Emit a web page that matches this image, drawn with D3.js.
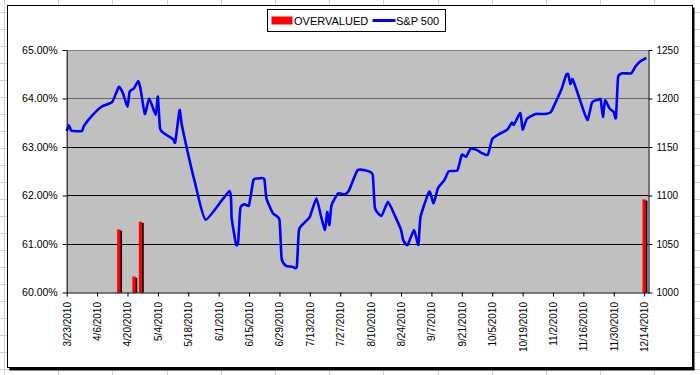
<!DOCTYPE html>
<html>
<head>
<meta charset="utf-8">
<script src="https://cdn.jsdelivr.net/npm/d3@7"></script>
<style>
	body { margin: 0; background: #fff; }
	svg { display: block; font-family: "Liberation Sans", Arial, sans-serif; }
</style>
</head>
<body>
<svg id="chart"></svg>
<script>
// S&P 500 closes (right axis)
const spDates = [
	'2010-03-23', '2010-03-24', '2010-03-25', '2010-03-26', '2010-03-30', '2010-03-31', '2010-04-04', '2010-04-08',
	'2010-04-13', '2010-04-16', '2010-04-18', '2010-04-20', '2010-04-21', '2010-04-23', '2010-04-25', '2010-04-26',
	'2010-04-28', '2010-04-30', '2010-05-03', '2010-05-04', '2010-05-05', '2010-05-07', '2010-05-11', '2010-05-12',
	'2010-05-14', '2010-05-15', '2010-05-18', '2010-05-21', '2010-05-26', '2010-06-06', '2010-06-07', '2010-06-09',
	'2010-06-10', '2010-06-11', '2010-06-13', '2010-06-15', '2010-06-17', '2010-06-19', '2010-06-22', '2010-06-23',
	'2010-06-26', '2010-06-29', '2010-06-30', '2010-07-02', '2010-07-05', '2010-07-07', '2010-07-08', '2010-07-11',
	'2010-07-13', '2010-07-16', '2010-07-18', '2010-07-20', '2010-07-21', '2010-07-22', '2010-07-23', '2010-07-26',
	'2010-07-29', '2010-07-31', '2010-08-04', '2010-08-09', '2010-08-11', '2010-08-12', '2010-08-15', '2010-08-18',
	'2010-08-21', '2010-08-24', '2010-08-25', '2010-08-27', '2010-08-30', '2010-09-01', '2010-09-02', '2010-09-06',
	'2010-09-08', '2010-09-10', '2010-09-13', '2010-09-15', '2010-09-19', '2010-09-21', '2010-09-23', '2010-09-25',
	'2010-09-28', '2010-09-30', '2010-10-03', '2010-10-05', '2010-10-08', '2010-10-12', '2010-10-14', '2010-10-15',
	'2010-10-18', '2010-10-19', '2010-10-21', '2010-10-25', '2010-10-29', '2010-11-01', '2010-11-03', '2010-11-06',
	'2010-11-08', '2010-11-09', '2010-11-10', '2010-11-11', '2010-11-13', '2010-11-16', '2010-11-18', '2010-11-20',
	'2010-11-23', '2010-11-24', '2010-11-25', '2010-11-26', '2010-11-28', '2010-11-30', '2010-12-01', '2010-12-02',
	'2010-12-04', '2010-12-08', '2010-12-10', '2010-12-12', '2010-12-15'
];
const spValues = [
	1166.5, 1172.5, 1167, 1166.5, 1166.5, 1172, 1183, 1191.5,
	1196.5, 1212, 1205, 1191.5, 1207, 1210.5, 1218, 1210,
	1184, 1200, 1183, 1202, 1169, 1164, 1158, 1155,
	1188, 1173, 1142, 1114, 1075, 1104.5, 1076.5, 1049.5,
	1052.5, 1087, 1091, 1090, 1116, 1117.5, 1117, 1097,
	1081.5, 1075, 1035, 1027.5, 1026.5, 1026.5, 1064.5, 1073,
	1078, 1097, 1080, 1064.5, 1083, 1069.5, 1090, 1102,
	1101, 1105, 1126, 1125, 1121, 1087, 1079, 1093.5,
	1080, 1064.5, 1054, 1049, 1064.5, 1049, 1078, 1104,
	1092, 1107.5, 1116, 1125, 1126, 1142, 1140, 1148,
	1147, 1144, 1142, 1158, 1163, 1168, 1175, 1173,
	1185, 1168, 1179, 1184, 1184, 1186, 1195, 1210,
	1224, 1225, 1215, 1220, 1208, 1188, 1178, 1196,
	1199, 1199, 1181, 1198, 1190, 1186, 1180, 1222,
	1226, 1226, 1233, 1238, 1242
];

// OVERVALUED bars (left axis)
const barDates = ['2010-04-16', '2010-04-23', '2010-04-26', '2010-12-14'];
const barValues = [0.6130, 0.6033, 0.6146, 0.6192];

const dateTicks = [
	'2010-03-23', '2010-04-06', '2010-04-20', '2010-05-04', '2010-05-18', '2010-06-01', '2010-06-15',
	'2010-06-29', '2010-07-13', '2010-07-27', '2010-08-10', '2010-08-24', '2010-09-07', '2010-09-21',
	'2010-10-05', '2010-10-19', '2010-11-02', '2010-11-16', '2010-11-30', '2010-12-14'
];
const pctTicks = [0.60, 0.61, 0.62, 0.63, 0.64, 0.65];
const spTicks = [1000, 1050, 1100, 1150, 1200, 1250];
const legendLabels = ['OVERVALUED', 'S&P 500'];

const width = 700, height = 375;
const plot = { left: 66.7, right: 648.5, top: 50, bottom: 292.5 };

const parse = d3.utcParse('%Y-%m-%d');
const fmtDate = d3.utcFormat('%-m/%-d/%Y');

const svg = d3.select('#chart')
	.attr('width', width)
	.attr('height', height);

// spreadsheet cells behind the chart object
const cells = svg.append('g').attr('stroke', '#d0d0d0').attr('stroke-width', 1);
d3.range(-1, 14).forEach(k => {
	const x = Math.round(4 + 54.2 * k) + 0.5;
	cells.append('line').attr('x1', x).attr('x2', x).attr('y1', 0).attr('y2', height);
});
d3.range(0, 23).forEach(k => {
	const y = Math.round(12 + 17 * k) + 0.5;
	cells.append('line').attr('x1', 0).attr('x2', width).attr('y1', y).attr('y2', y);
});

// chart object frame with shadow
svg.append('rect')
	.attr('x', 9.5).attr('y', 7.5).attr('width', 685).attr('height', 363)
	.attr('fill', '#000');
svg.append('rect')
	.attr('x', 7.5).attr('y', 5.5).attr('width', 685).attr('height', 362)
	.attr('fill', '#fff').attr('stroke', '#000');

const x = d3.scaleUtc()
	.domain([parse('2010-03-23'), parse('2010-12-16')])
	.range([plot.left, plot.right]);
const yPct = d3.scaleLinear().domain([0.60, 0.65]).range([plot.bottom, plot.top]);
const ySp = d3.scaleLinear().domain([1000, 1250]).range([plot.bottom, plot.top]);

svg.append('rect')
	.attr('x', plot.left).attr('y', plot.top)
	.attr('width', plot.right - plot.left).attr('height', plot.bottom - plot.top)
	.attr('fill', '#c0c0c0');

// gridlines
svg.append('g').selectAll('line')
	.data(pctTicks.slice(1))
	.join('line')
	.attr('x1', plot.left).attr('x2', plot.right)
	.attr('y1', d => Math.floor(yPct(d)) + 0.5)
	.attr('y2', d => Math.floor(yPct(d)) + 0.5)
	.attr('stroke', d => d >= 0.64 ? '#666' : '#000');

// bars with their little black shadow
const barW = 3.3;
const bars = svg.append('g');
bars.selectAll('rect.shadow')
	.data(barValues)
	.join('rect')
	.attr('class', 'shadow')
	.attr('x', (d, i) => x(parse(barDates[i])) - barW / 2 + 1.6)
	.attr('y', d => yPct(d) + 1.3)
	.attr('width', barW)
	.attr('height', d => plot.bottom - yPct(d) - 1.3)
	.attr('fill', '#000');
bars.selectAll('rect.bar')
	.data(barValues)
	.join('rect')
	.attr('class', 'bar')
	.attr('x', (d, i) => x(parse(barDates[i])) - barW / 2)
	.attr('y', d => yPct(d))
	.attr('width', barW)
	.attr('height', d => plot.bottom - yPct(d))
	.attr('fill', '#ff0000');

// S&P line, smoothed like the spreadsheet does
const line = d3.line()
	.x(d => x(d[0]))
	.y(d => ySp(d[1]))
	.curve(d3.curveCardinal.tension(0.5));
svg.append('path')
	.datum(spDates.map((d, i) => [parse(d), spValues[i]]))
	.attr('d', line)
	.attr('fill', 'none')
	.attr('stroke', '#0000ff')
	.attr('stroke-width', 2.6)
	.attr('stroke-linejoin', 'round');

// top border of the plot area
svg.append('line')
	.attr('x1', plot.left).attr('x2', plot.right)
	.attr('y1', plot.top + 0.5).attr('y2', plot.top + 0.5)
	.attr('stroke', '#808080');

// axes
const leftAxis = svg.append('g')
	.attr('transform', `translate(${plot.left},0)`)
	.call(d3.axisLeft(yPct).tickValues(pctTicks).tickFormat(d3.format('.2%')).tickSize(4).tickSizeOuter(0));
leftAxis.selectAll('text').attr('x', -9).style('font-size', '10.5px');

const rightAxis = svg.append('g')
	.attr('transform', `translate(${plot.right},0)`)
	.call(d3.axisRight(ySp).tickValues(spTicks).tickFormat(d3.format('d')).tickSize(4).tickSizeOuter(0));
rightAxis.selectAll('text').attr('x', 8).style('font-size', '10px');

const bottomAxis = svg.append('g')
	.attr('transform', `translate(0,${plot.bottom})`)
	.call(d3.axisBottom(x).tickValues(dateTicks.map(parse)).tickFormat(fmtDate).tickSize(4).tickSizeOuter(0));
bottomAxis.selectAll('text')
	.attr('transform', 'rotate(-90)')
	.attr('x', -9.5)
	.attr('y', 0)
	.attr('dy', '0.35em')
	.style('text-anchor', 'end')
	.style('font-size', '10px');

[leftAxis, rightAxis, bottomAxis].forEach(a => {
	a.select('.domain').attr('stroke', '#000');
	a.selectAll('.tick line').attr('stroke', '#000');
	a.selectAll('text').attr('fill', '#000').style('font-family', '"Liberation Sans", Arial, sans-serif');
});

// legend
const legend = svg.append('g').attr('transform', 'translate(267.5,9.5)');
legend.append('rect')
	.attr('width', 178).attr('height', 22)
	.attr('fill', '#fff').attr('stroke', '#000');
legend.append('rect')
	.attr('x', 4).attr('y', 7).attr('width', 21).attr('height', 8)
	.attr('fill', '#ff0000');
legend.append('text')
	.attr('x', 26.5).attr('y', 15)
	.style('font-size', '11px')
	.text(legendLabels[0]);
legend.append('line')
	.attr('x1', 105).attr('x2', 128).attr('y1', 11).attr('y2', 11)
	.attr('stroke', '#0000ff').attr('stroke-width', 3);
legend.append('text')
	.attr('x', 128.5).attr('y', 15)
	.style('font-size', '11px')
	.text(legendLabels[1]);
</script>
</body>
</html>
